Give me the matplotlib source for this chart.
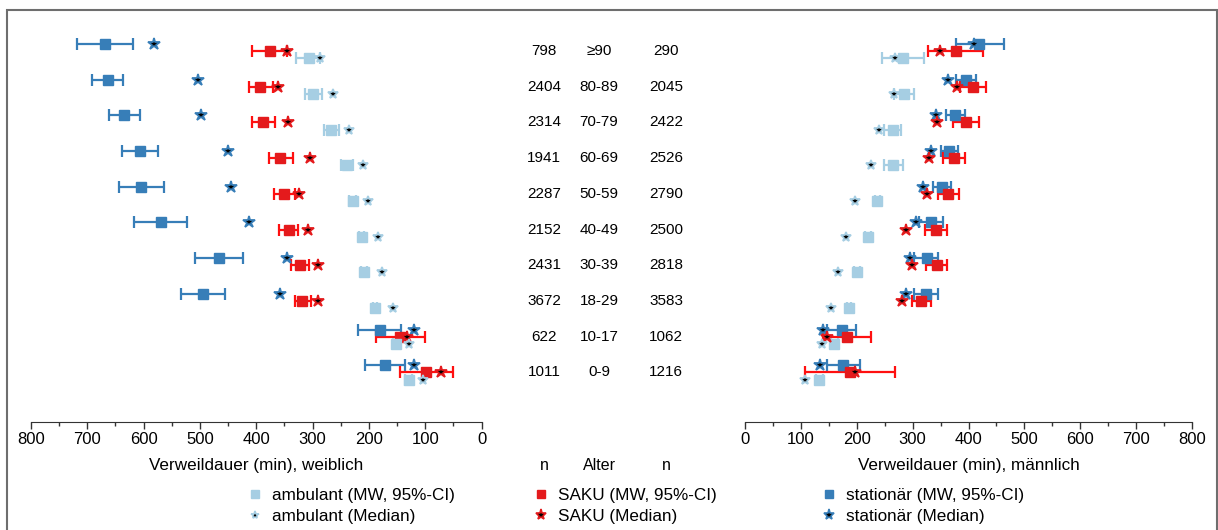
import matplotlib
matplotlib.use('Agg')
import matplotlib.pyplot as plt
import matplotlib.transforms as mtransforms
from matplotlib.lines import Line2D
from matplotlib.patches import Rectangle
from matplotlib.ticker import MultipleLocator
import numpy as np

plt.rcParams['font.family'] = ['Liberation Sans', 'DejaVu Sans']

ages = ['≥90', '80-89', '70-79', '60-69', '50-59', '40-49', '30-39', '18-29', '10-17', '0-9']
n_w = [798, 2404, 2314, 1941, 2287, 2152, 2431, 3672, 622, 1011]
n_m = [290, 2045, 2422, 2526, 2790, 2500, 2818, 3583, 1062, 1216]

# weiblich (left panel), minutes
stat_w_mean = [669, 664, 634, 606, 604, 569, 467, 495, 181, 171]
stat_w_lo = [619, 637, 606, 574, 564, 523, 424, 456, 143, 135]
stat_w_hi = [718, 691, 662, 638, 644, 617, 509, 534, 219, 207]
stat_w_med = [581, 504, 498, 451, 444, 413, 345, 358, 119, 119]

saku_w_mean = [376, 393, 388, 357, 350, 342, 322, 318, 144, 99]
saku_w_lo = [345, 371, 366, 335, 331, 325, 306, 303, 101, 50]
saku_w_hi = [407, 413, 408, 378, 368, 360, 338, 331, 187, 145]
saku_w_med = [345, 361, 344, 304, 324, 308, 290, 290, 132, 72]

amb_w_mean = [306, 299, 267, 239, 229, 213, 209, 189, 152, 129]
amb_w_lo = [287, 283, 253, 228, 223, 208, 204, 185, 146, 123]
amb_w_hi = [330, 314, 280, 250, 235, 218, 214, 193, 158, 135]
amb_w_med = [286, 264, 236, 210, 202, 184, 176, 157, 129, 104]

# männlich (right panel), minutes
stat_m_mean = [418, 395, 376, 365, 353, 333, 325, 324, 174, 176]
stat_m_lo = [377, 377, 359, 350, 337, 312, 303, 302, 147, 146]
stat_m_hi = [463, 413, 393, 381, 369, 354, 345, 346, 199, 205]
stat_m_med = [410, 363, 342, 332, 318, 306, 295, 288, 140, 134]

saku_m_mean = [377, 408, 395, 374, 363, 342, 343, 315, 182, 188]
saku_m_lo = [328, 385, 372, 354, 345, 323, 324, 299, 139, 107]
saku_m_hi = [426, 431, 418, 394, 383, 362, 362, 332, 226, 268]
saku_m_med = [349, 379, 344, 330, 326, 289, 299, 281, 146, 196]

amb_m_mean = [283, 285, 264, 265, 237, 220, 200, 186, 160, 133]
amb_m_lo = [246, 267, 249, 248, 232, 215, 195, 182, 154, 127]
amb_m_hi = [320, 302, 279, 283, 242, 225, 205, 190, 166, 139]
amb_m_med = [268, 267, 240, 226, 197, 181, 166, 154, 137, 107]

c_amb = '#a6cee3'
c_saku = '#e41a1c'
c_saku_bar = '#ff1010'
c_stat = '#377eb8'

W, H = 1218, 530
fig = plt.figure(figsize=(W / 100, H / 100), dpi=100)

ax_w = fig.add_axes([31 / W, (H - 422) / H, 450.5 / W, 402 / H])
ax_m = fig.add_axes([745 / W, (H - 422) / H, 447 / W, 402 / H])

rows = np.arange(len(ages))


def draw_group(ax, mean, lo, hi, med, off, col, barcol, ms, star_ms):
    mean = np.array(mean)
    err = [mean - np.array(lo), np.array(hi) - mean]
    y = rows + off
    ax.errorbar(mean, y, xerr=err, fmt='s', color=col, ecolor=barcol, ms=ms,
                elinewidth=1.6, capsize=4, capthick=1.6, zorder=2)
    ax.plot(med, y, ls='none', marker='*', mfc='black', mec=col, mew=1.3,
            ms=star_ms, zorder=3)


for ax, data in [(ax_w, [(stat_w_mean, stat_w_lo, stat_w_hi, stat_w_med),
                         (saku_w_mean, saku_w_lo, saku_w_hi, saku_w_med),
                         (amb_w_mean, amb_w_lo, amb_w_hi, amb_w_med)]),
                 (ax_m, [(stat_m_mean, stat_m_lo, stat_m_hi, stat_m_med),
                         (saku_m_mean, saku_m_lo, saku_m_hi, saku_m_med),
                         (amb_m_mean, amb_m_lo, amb_m_hi, amb_m_med)])]:
    draw_group(ax, *data[0], -0.2, c_stat, c_stat, 7, 9)
    draw_group(ax, *data[1], 0.0, c_saku, c_saku_bar, 7, 9)
    draw_group(ax, *data[2], 0.2, c_amb, c_amb, 7.5, 7.5)

    ax.set_ylim(10.39, -0.868)
    for s in ['top', 'left', 'right']:
        ax.spines[s].set_visible(False)
    ax.spines['bottom'].set_color('#333333')
    ax.set_yticks([])
    ax.xaxis.set_major_locator(MultipleLocator(100))
    ax.xaxis.set_minor_locator(MultipleLocator(50))
    ax.tick_params(axis='x', which='major', length=5, width=1, labelsize=12, pad=2, color='#333333')
    ax.tick_params(axis='x', which='minor', length=3, width=1, color='#333333')
    ax.set_facecolor('none')

ax_w.set_xlim(800, 0)
ax_m.set_xlim(0, 800)
ax_w.set_xlabel('Verweildauer (min), weiblich', fontsize=12.3, labelpad=8)
ax_m.set_xlabel('Verweildauer (min), männlich', fontsize=12.3, labelpad=8)

# middle columns: n, age group, n
trans = mtransforms.blended_transform_factory(fig.transFigure, ax_w.transData)
for i in rows:
    fig.text(544 / W, i, str(n_w[i]), transform=trans, ha='center', va='center', fontsize=11)
    fig.text(599 / W, i, ages[i], transform=trans, ha='center', va='center', fontsize=11)
    fig.text(666 / W, i, str(n_m[i]), transform=trans, ha='center', va='center', fontsize=11)

hy = (H - 465) / H
fig.text(544 / W, hy, 'n', ha='center', va='center', fontsize=11.5)
fig.text(599 / W, hy, 'Alter', ha='center', va='center', fontsize=11.5)
fig.text(666 / W, hy, 'n', ha='center', va='center', fontsize=11.5)

# legends, one per group
groups = [('ambulant', c_amb, 6, 255), ('SAKU', c_saku, 8, 541), ('stationär', c_stat, 8, 829)]
for name, col, sms, xpix in groups:
    handles = [Line2D([], [], ls='none', marker='s', color=col, ms=5.5),
               Line2D([], [], ls='none', marker='*', mfc='black', mec=col, mew=1.2, ms=sms)]
    fig.legend(handles, [name + ' (MW, 95%-CI)', name + ' (Median)'],
               loc='upper left', bbox_to_anchor=((xpix - 8.5) / W, (H - 488) / H),
               frameon=False, fontsize=12.3, borderpad=0, borderaxespad=0,
               handlelength=1.0, handletextpad=0.5, labelspacing=0.33)

# outer frame
fig.patches.append(Rectangle((7 / W, -0.1), (1217 - 7) / W, (H - 10) / H + 0.1,
                             transform=fig.transFigure, fill=False,
                             edgecolor='#6e6e6e', lw=1.5))

fig.savefig('out.png', dpi=100)
